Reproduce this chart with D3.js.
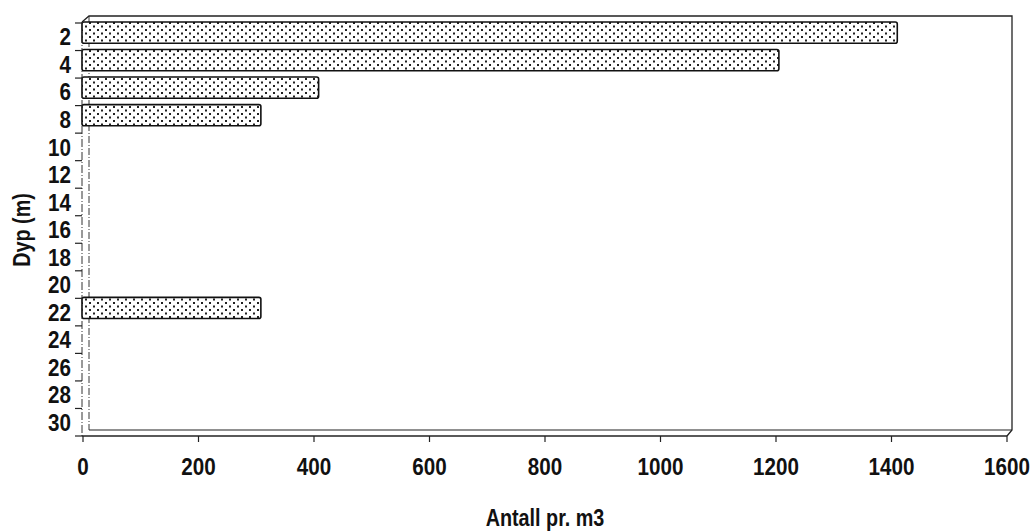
<!DOCTYPE html>
<html lang="no">
<head>
	<meta charset="UTF-8">
	<title>Dyp / Antall pr. m3</title>
	<style>
		html, body {width: 100%; height: 100%; padding: 0; margin: 0; background: #fff;}
		text {font-family: "Liberation Sans", Arial, sans-serif; font-weight: bold; fill: #111;}
		.tick-label {font-size: 24px;}
		.axis-title {font-size: 23px;}
	</style>
	<script src="https://d3js.org/d3.v7.min.js"></script>
</head>
<body>
<script>
// depth categories (m) and counts per m3
var depths = [2, 4, 6, 8, 10, 12, 14, 16, 18, 20, 22, 24, 26, 28, 30];
var counts = [1410, 1205, 408, 308, 0, 0, 0, 0, 0, 0, 308, 0, 0, 0, 0];
var xTicks = [0, 200, 400, 600, 800, 1000, 1200, 1400, 1600];

var width = 1036, height = 532;
var squeeze = 0.86; // the original uses a condensed bold face
var svg = d3.select('body').append('svg')
	.attr('width', width)
	.attr('height', height);

// dotted fill like the printed original
var pat = svg.append('defs').append('pattern')
	.attr('id', 'dots')
	.attr('patternUnits', 'userSpaceOnUse')
	.attr('width', 8).attr('height', 7);
pat.append('rect').attr('width', 8).attr('height', 7).attr('fill', '#fff');
pat.append('rect').attr('x', 1).attr('y', 1).attr('width', 2).attr('height', 2).attr('fill', '#222');
pat.append('rect').attr('x', 5).attr('y', 4.5).attr('width', 2).attr('height', 2).attr('fill', '#222');

var x = d3.scaleLinear().domain([0, 1600]).range([83, 1007]);
var y = d3.scaleBand().domain(depths).range([23, 436]);

// back frame (slightly offset, pseudo 3D)
var back = svg.append('g').attr('fill', 'none').attr('stroke', '#222');
back.append('path')
	.attr('d', 'M82,22 L89,16 L1012,16 L1012,430 L1007,436')
	.attr('stroke-width', 1.3);
back.append('line')
	.attr('x1', 89).attr('x2', 1012).attr('y1', 430).attr('y2', 430)
	.attr('stroke-width', 1.2);
back.append('line')
	.attr('x1', 89).attr('x2', 89).attr('y1', 16).attr('y2', 430)
	.attr('stroke-width', 0.9)
	.attr('stroke-dasharray', '7,2,1,2');

// bars
svg.append('g').selectAll('rect')
	.data(depths.map(function (d, i) { return {depth: d, value: counts[i]}; })
		.filter(function (d) { return d.value > 0; }))
	.enter().append('rect')
	.attr('x', x(0) - 1)
	.attr('y', function (d) { return y(d.depth) - 1; })
	.attr('width', function (d) { return x(d.value) - x(0) + 1; })
	.attr('height', y.bandwidth() * 0.77)
	.attr('rx', 2)
	.attr('fill', 'url(#dots)')
	.attr('stroke', '#111')
	.attr('stroke-width', 1.6);

// front axes
svg.append('line')
	.attr('x1', 82).attr('x2', 82).attr('y1', 22).attr('y2', 436)
	.attr('stroke', '#333').attr('stroke-width', 1)
	.attr('stroke-dasharray', '8,2,1,2');
svg.append('line')
	.attr('x1', 82).attr('x2', 1007).attr('y1', 436).attr('y2', 436)
	.attr('stroke', '#222').attr('stroke-width', 1.3);

// y ticks at band boundaries
var yBounds = depths.map(function (d) { return y(d); }).concat([y.range()[1]]);
svg.append('g').selectAll('line')
	.data(yBounds)
	.enter().append('line')
	.attr('x1', 75).attr('x2', 82)
	.attr('y1', function (d) { return d; })
	.attr('y2', function (d) { return d; })
	.attr('stroke', '#222').attr('stroke-width', 1.2);

svg.append('g').selectAll('text')
	.data(depths)
	.enter().append('text')
	.attr('class', 'tick-label')
	.attr('transform', function (d) {
		return 'translate(71,' + (y(d) + y.bandwidth() / 2) + ') scale(' + squeeze + ',1)';
	})
	.attr('dy', '0.36em')
	.attr('text-anchor', 'end')
	.text(function (d) { return d; });

// x ticks
svg.append('g').selectAll('line')
	.data(xTicks)
	.enter().append('line')
	.attr('x1', function (d) { return x(d); })
	.attr('x2', function (d) { return x(d); })
	.attr('y1', 436).attr('y2', 442)
	.attr('stroke', '#222').attr('stroke-width', 1.2);

svg.append('g').selectAll('text')
	.data(xTicks)
	.enter().append('text')
	.attr('class', 'tick-label')
	.attr('transform', function (d) { return 'translate(' + x(d) + ',475) scale(' + squeeze + ',1)'; })
	.attr('text-anchor', 'middle')
	.text(function (d) { return d; });

// axis titles
svg.append('text')
	.attr('class', 'axis-title')
	.attr('transform', 'translate(30,230) rotate(-90) scale(' + squeeze + ',1)')
	.attr('text-anchor', 'middle')
	.text('Dyp (m)');

svg.append('text')
	.attr('class', 'axis-title')
	.attr('transform', 'translate(545,526) scale(' + squeeze + ',1)')
	.attr('text-anchor', 'middle')
	.text('Antall pr. m3');
</script>
</body>
</html>
